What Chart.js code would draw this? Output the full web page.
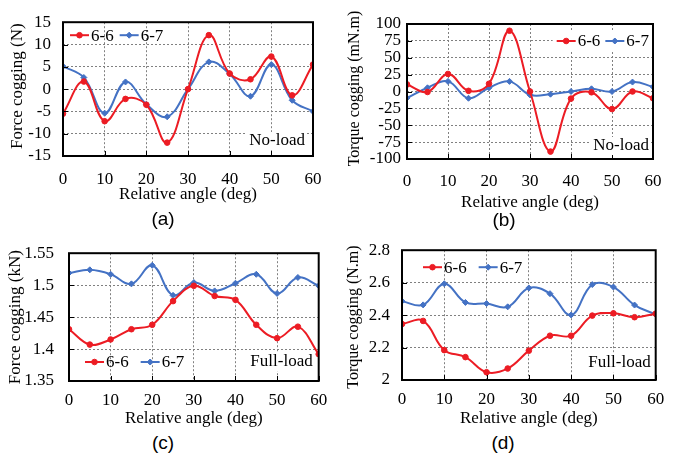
<!DOCTYPE html>
<html>
<head>
<meta charset="utf-8">
<script src="https://cdn.jsdelivr.net/npm/chart.js@4.4.0/dist/chart.umd.min.js"></script>
<style>
  body { margin: 0; background: #fff; }
  #fig { position: relative; width: 674px; height: 455px; overflow: hidden; background: #fff; }
  #fig canvas { position: absolute; }
  .cap { position: absolute; font: 19px 'Liberation Sans', Arial, sans-serif; transform: translate(-50%, -50%); color: #000; }
</style>
</head>
<body>
<div id="fig">
  <canvas id="cA" width="337" height="210" style="left:0;top:0"></canvas>
  <canvas id="cB" width="337" height="215" style="left:337px;top:0"></canvas>
  <canvas id="cC" width="337" height="200" style="left:0;top:228px"></canvas>
  <canvas id="cD" width="337" height="200" style="left:337px;top:228px"></canvas>
  <div class="cap" style="left:163px;top:219px">(a)</div>
  <div class="cap" style="left:504px;top:220px">(b)</div>
  <div class="cap" style="left:163px;top:443px">(c)</div>
  <div class="cap" style="left:503px;top:443px">(d)</div>
</div>
<script>
// relative angle (deg)
const angles = [0, 5, 10, 15, 20, 25, 30, 35, 40, 45, 50, 55, 60];
const xTicks = [0, 10, 20, 30, 40, 50, 60];

// (a) no-load force cogging, N
const forceNoLoad66 = [-5.5, 1.7, -7.2, -2.2, -3.5, -12.0, 0, 12.1, 3.5, 2.2, 7.3, -1.4, 5.5];
const forceNoLoad67 = [5.1, 2.6, -5.4, 1.6, -3.4, -6.2, 0, 6.1, 3.4, -1.6, 5.5, -2.5, -5.0];
const yTicksA = [-15, -10, -5, 0, 5, 10, 15];

// (b) no-load torque cogging, mN.m
const torqueNoLoad66 = [10.5, -0.7, 26, 1, 11.5, 90, 0, -89, -10.5, -1.2, -26, 0, -10];
const torqueNoLoad67 = [-9.5, 5.5, 15, -10, 5.5, 15, -5, -4, 0, 4, 0, 14, 7];
const yTicksB = [-100, -75, -50, -25, 0, 25, 50, 75, 100];

// (c) full-load force, kN
const forceFull66 = [1.431, 1.407, 1.415, 1.431, 1.438, 1.475, 1.499, 1.483, 1.477, 1.438, 1.417, 1.435, 1.392];
const forceFull67 = [1.519, 1.524, 1.517, 1.502, 1.531, 1.484, 1.504, 1.491, 1.503, 1.517, 1.487, 1.512, 1.499];
const yTicksC = [1.35, 1.4, 1.45, 1.5, 1.55];

// (d) full-load torque, N.m
const torqueFull66 = [2.345, 2.364, 2.184, 2.141, 2.048, 2.071, 2.181, 2.273, 2.273, 2.397, 2.411, 2.387, 2.409];
const torqueFull67 = [2.486, 2.463, 2.593, 2.478, 2.471, 2.451, 2.567, 2.532, 2.401, 2.588, 2.573, 2.462, 2.404];
const yTicksD = [2, 2.2, 2.4, 2.6, 2.8];

const RED = '#ec1c24';
const BLUE = '#4472c4';
const SERIF = "'Liberation Serif', 'Times New Roman', serif";

const pts = (ys) => angles.map((x, i) => ({ x, y: ys[i] }));

// frame, inward ticks, axis titles, legend and load note
const decor = {
  id: 'decor',
  afterDraw(chart, args, o) {
    const { ctx, chartArea: a, scales } = chart;
    ctx.save();
    ctx.strokeStyle = '#000';
    ctx.lineWidth = 1;
    ctx.beginPath();
    scales.x.ticks.forEach(t => {
      const px = Math.round(scales.x.getPixelForValue(t.value)) + 0.5;
      ctx.moveTo(px, a.bottom); ctx.lineTo(px, a.bottom - 5);
    });
    scales.y.ticks.forEach(t => {
      const py = Math.round(scales.y.getPixelForValue(t.value)) + 0.5;
      ctx.moveTo(a.left, py); ctx.lineTo(a.left + 5, py);
    });
    ctx.stroke();
    ctx.lineWidth = 2;
    ctx.strokeRect(a.left, a.top, a.right - a.left, a.bottom - a.top);

    ctx.fillStyle = '#000';
    ctx.textBaseline = 'middle';
    ctx.textAlign = 'center';
    ctx.font = '17px ' + SERIF;
    ctx.fillText('Relative angle (deg)', (a.left + a.right) / 2, a.bottom + o.xTitleDy);
    ctx.save();
    ctx.translate(o.yTitleX, (a.top + a.bottom) / 2 + o.yTitleDy);
    ctx.rotate(-Math.PI / 2);
    ctx.font = o.yTitleSize + 'px ' + SERIF;
    ctx.fillText(o.yTitle, 0, 0);
    ctx.restore();

    // load condition note
    ctx.font = '17px ' + SERIF;
    ctx.textAlign = 'right';
    const nx = a.right - o.note.dx, ny = a.bottom - o.note.dy;
    const nw = ctx.measureText(o.note.text).width;
    ctx.fillStyle = '#fff';
    ctx.fillRect(nx - nw - 3, ny - 9, nw + 5, 18);
    ctx.fillStyle = '#000';
    ctx.fillText(o.note.text, nx, ny);

    // legend
    const L = o.legend;
    const items = chart.data.datasets;
    const lineW = 19;
    const widths = items.map(d => lineW + 2 + ctx.measureText(d.label).width);
    const total = widths.reduce((s, w) => s + w, 0) + L.gap * (items.length - 1);
    let lx = L.right != null ? a.right - L.right - total : a.left + L.x;
    const ly = L.top != null ? a.top + L.top : a.bottom - L.bottom;
    if (L.box) {
      ctx.fillStyle = '#fff';
      ctx.fillRect(lx - 4, ly - 9, a.right - lx + 3, 18);
    }
    ctx.textAlign = 'left';
    items.forEach((d, i) => {
      ctx.strokeStyle = d.borderColor;
      ctx.fillStyle = d.borderColor;
      ctx.lineWidth = 2;
      ctx.beginPath();
      ctx.moveTo(lx, ly); ctx.lineTo(lx + lineW, ly);
      ctx.stroke();
      ctx.lineWidth = 1;
      Chart.helpers.drawPoint(ctx, { pointStyle: d.pointStyle, radius: d.pointRadius, rotation: 0, borderWidth: 1 }, lx + lineW / 2, ly);
      ctx.fillStyle = '#000';
      ctx.fillText(d.label, lx + lineW + 2, ly + 1);
      lx += widths[i] + L.gap;
    });
    ctx.restore();
  }
};

function panel(id, s66, s67, yTicks, p) {
  const series = (label, ys, color, style, r) => ({
    label, data: pts(ys),
    borderColor: color, backgroundColor: color,
    borderWidth: 2, tension: 0.4,
    pointStyle: style, pointRadius: r,
    pointBorderWidth: 1
  });
  // dotted grey grid lines
  const grid = { color: '#808080', lineWidth: 1, drawTicks: false };
  const border = { display: false, dash: [2, 2] };
  new Chart(document.getElementById(id), {
    type: 'line',
    data: {
      datasets: [
        series('6-6', s66, RED, 'circle', 2.8),
        series('6-7', s67, BLUE, 'rectRot', 3)
      ]
    },
    options: {
      responsive: false,
      animation: false,
      layout: { padding: { top: p.padTop, right: p.padRight, left: 0, bottom: 0 } },
      plugins: { legend: { display: false }, tooltip: { enabled: false }, decor: p.decor },
      scales: {
        x: {
          type: 'linear',
          min: xTicks[0], max: xTicks[xTicks.length - 1],
          afterBuildTicks: s => { s.ticks = xTicks.map(v => ({ value: v })); },
          afterFit: s => { s.height = p.xH; },
          grid, border,
          ticks: { color: '#000', autoSkip: false, padding: p.xTickPad, maxRotation: 0, font: { family: SERIF, size: 17 } }
        },
        y: {
          min: yTicks[0], max: yTicks[yTicks.length - 1],
          afterBuildTicks: s => { s.ticks = yTicks.map(v => ({ value: v })); },
          afterFit: s => { s.width = p.yW; },
          grid, border,
          ticks: {
            color: '#000', autoSkip: false, padding: p.yTickPad,
            font: { family: SERIF, size: 17 },
            callback: v => String(+v.toFixed(3))
          }
        }
      }
    },
    plugins: [decor]
  });
}

panel('cA', forceNoLoad66, forceNoLoad67, yTicksA, {
  padTop: 22, padRight: 24, yW: 63, xH: 54, yTickPad: 12, xTickPad: 13.8,
  decor: { yTitle: 'Force cogging (N)', yTitleSize: 17, yTitleX: 18, yTitleDy: -3, xTitleDy: 39,
    note: { text: 'No-load', dx: 8, dy: 15 },
    legend: { x: 7, top: 13, gap: 6, box: false } }
});
panel('cB', torqueNoLoad66, torqueNoLoad67, yTicksB, {
  padTop: 24, padRight: 13, yW: 70, xH: 56, yTickPad: 6, xTickPad: 12.5,
  decor: { yTitle: 'Torque cogging (mN.m)', yTitleSize: 16, yTitleX: 18, yTitleDy: -3, xTitleDy: 43.7,
    note: { text: 'No-load', dx: 4, dy: 13 },
    legend: { right: 4, top: 17, gap: 5, box: true } }
});
panel('cC', forceFull66, forceFull67, yTicksC, {
  padTop: 19, padRight: 14, yW: 69, xH: 47, yTickPad: 15, xTickPad: 9.8,
  decor: { yTitle: 'Force cogging (kN)', yTitleSize: 17, yTitleX: 16, yTitleDy: 0, xTitleDy: 38,
    note: { text: 'Full-load', dx: 6, dy: 19 },
    legend: { x: 16, bottom: 19, gap: 12, box: false } }
});
panel('cD', torqueFull66, torqueFull67, yTicksD, {
  padTop: 16, padRight: 6, yW: 65, xH: 48, yTickPad: 12, xTickPad: 9.8,
  decor: { yTitle: 'Torque cogging (N.m)', yTitleSize: 16, yTitleX: 17, yTitleDy: 2, xTitleDy: 39,
    note: { text: 'Full-load', dx: 5, dy: 17 },
    legend: { x: 21, top: 17, gap: 12, box: false } }
});
</script>
</body>
</html>
